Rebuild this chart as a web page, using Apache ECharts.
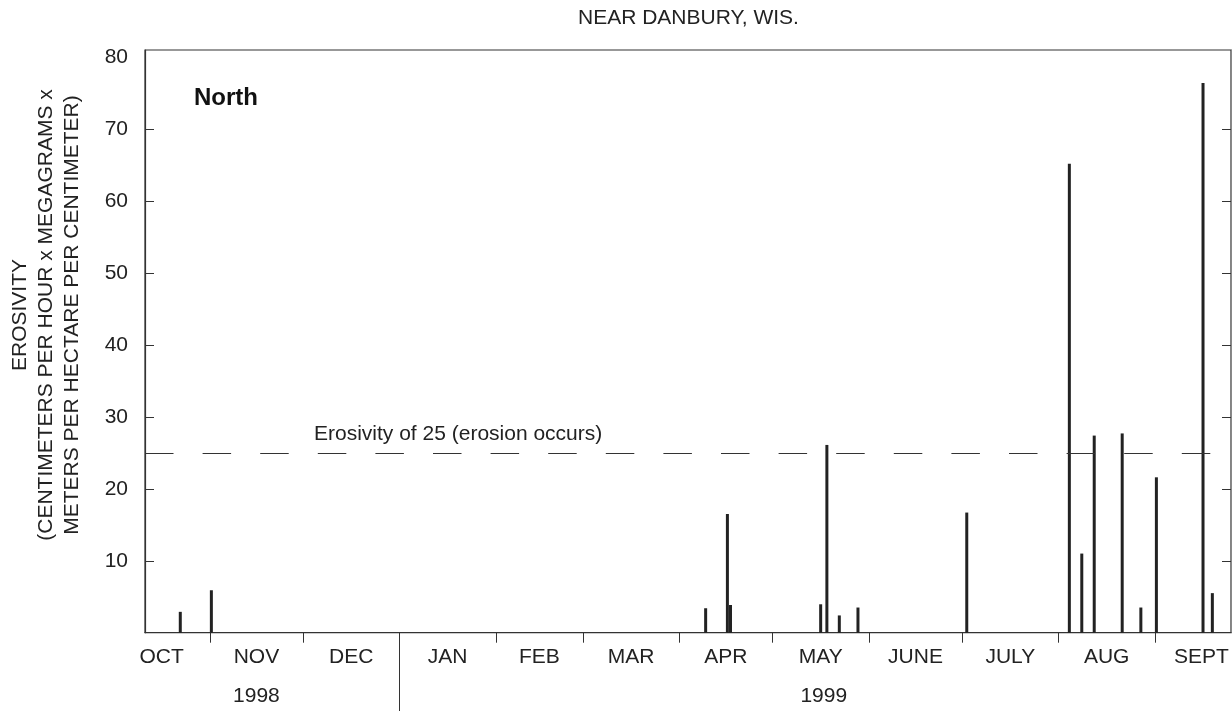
<!DOCTYPE html>
<html>
<head>
<meta charset="utf-8">
<script src="https://cdn.jsdelivr.net/npm/echarts@6/dist/echarts.min.js"></script>
<style>
  html, body { margin: 0; padding: 0; background: #ffffff; }
  #chart { width: 1232px; height: 711px; }
</style>
</head>
<body>
<div id="chart"></div>
<script>
// Storm erosivity, water year 1999 (October 1998 - September 1999)
const eventDates = [
  '1998-10-22', '1998-11-01',
  '1999-04-09', '1999-04-16', '1999-04-17',
  '1999-05-16', '1999-05-18', '1999-05-22', '1999-05-28',
  '1999-07-02',
  '1999-08-04', '1999-08-08', '1999-08-12', '1999-08-21', '1999-08-27',
  '1999-09-01', '1999-09-16', '1999-09-19'
];
const erosivity = [
  2.9, 5.9,
  3.4, 16.5, 3.85,
  3.95, 26.1, 2.4, 3.5,
  16.7,
  65.2, 11.0, 27.4, 27.7, 3.5,
  21.6, 76.4, 5.5
];

const monthNames = ['OCT', 'NOV', 'DEC', 'JAN', 'FEB', 'MAR', 'APR', 'MAY', 'JUNE', 'JULY', 'AUG', 'SEPT'];
const monthStarts = [
  '1998-10-01', '1998-11-01', '1998-12-01', '1999-01-01', '1999-02-01', '1999-03-01',
  '1999-04-01', '1999-05-01', '1999-06-01', '1999-07-01', '1999-08-01', '1999-09-01', '1999-10-01'
];
const yearNames = ['1998', '1999'];
const yearStarts = ['1998-10-01', '1999-01-01', '1999-10-01'];

const yTickValues = [10, 20, 30, 40, 50, 60, 70];
const yLabelValues = [10, 20, 30, 40, 50, 60, 70, 80];
const erosionThreshold = 25;

// x axis is measured in days since 1 October 1998
const DAY = 86400000;
const ORIGIN = Date.UTC(1998, 9, 1);
function dayOf(s) {
  const p = s.split('-').map(Number);
  return (Date.UTC(p[0], p[1] - 1, p[2]) - ORIGIN) / DAY;
}
const X_MIN = 10.15;
const X_MAX = 359.5;

const FONT = "'Liberation Sans', Arial, Helvetica, sans-serif";
const INK = '#222222';
const LINE = '#333333';

const barData = eventDates.map((d, i) => [dayOf(d) + 0.5, erosivity[i]]);

const monthDays = monthStarts.map(dayOf);
const monthTicks = monthDays.slice(1, -1);
const monthMids = monthNames.map((_, i) => (monthDays[i] + monthDays[i + 1]) / 2);
const yearDays = yearStarts.map(dayOf);
const yearMids = yearNames.map((_, i) => (yearDays[i] + yearDays[i + 1]) / 2);

function nameAt(values, names) {
  return function (v) {
    let best = 0;
    for (let i = 1; i < values.length; i++) {
      if (Math.abs(values[i] - v) < Math.abs(values[best] - v)) best = i;
    }
    return names[best];
  };
}

const chart = echarts.init(document.getElementById('chart'), null, { renderer: 'canvas' });

const labelStyle = { color: INK, fontFamily: FONT, fontSize: 21 };

chart.setOption({
  animation: false,
  backgroundColor: '#ffffff',
  grid: {
    left: 145, right: 1, top: 50, bottom: 78.3,
    show: true, borderColor: LINE, borderWidth: 1.2, backgroundColor: 'transparent'
  },
  xAxis: [
    {
      type: 'value', position: 'bottom', min: X_MIN, max: X_MAX,
      axisLine: { show: true, lineStyle: { color: LINE, width: 1.2 } },
      axisTick: { show: true, customValues: monthTicks, inside: false, length: 10, lineStyle: { color: LINE, width: 1 } },
      axisLabel: Object.assign({ customValues: monthMids, margin: 14, lineHeight: 21,
        formatter: nameAt(monthMids, monthNames) }, labelStyle),
      splitLine: { show: false }
    },
    {
      type: 'value', position: 'bottom', min: X_MIN, max: X_MAX,
      axisLine: { show: false },
      axisTick: { show: true, customValues: [dayOf('1999-01-01')], inside: false, length: 80, lineStyle: { color: LINE, width: 1 } },
      axisLabel: Object.assign({ customValues: yearMids, margin: 53, lineHeight: 21,
        formatter: nameAt(yearMids, yearNames) }, labelStyle),
      splitLine: { show: false }
    }
  ],
  yAxis: [
    {
      type: 'value', position: 'left', min: 0, max: 81,
      axisLine: { show: true, lineStyle: { color: LINE, width: 1.2 } },
      axisTick: { show: true, customValues: yTickValues, inside: true, length: 9, lineStyle: { color: LINE, width: 1 } },
      axisLabel: Object.assign({ customValues: yLabelValues, margin: 17 }, labelStyle),
      splitLine: { show: false }
    },
    {
      type: 'value', position: 'right', min: 0, max: 81,
      axisLine: { show: true, lineStyle: { color: '#888888', width: 1 } },
      axisTick: { show: true, customValues: yTickValues, inside: true, length: 9, lineStyle: { color: LINE, width: 1 } },
      axisLabel: { show: false },
      splitLine: { show: false }
    }
  ],
  series: [
    {
      type: 'bar',
      xAxisIndex: 0, yAxisIndex: 0,
      data: barData,
      barWidth: 3,
      itemStyle: { color: INK },
      silent: true,
      markLine: {
        silent: true,
        symbol: ['none', 'none'],
        label: { show: false },
        lineStyle: { color: LINE, width: 1.2, type: [28.5, 29.1], dashOffset: 0 },
        data: [{ yAxis: erosionThreshold }]
      }
    }
  ]
});

const thresholdY = chart.convertToPixel({ yAxisIndex: 0 }, erosionThreshold);

chart.setOption({
  graphic: [
    {
      type: 'text', x: 578, y: 18.5,
      style: { text: 'NEAR DANBURY, WIS.', fill: INK, font: '21px ' + FONT, align: 'left', verticalAlign: 'middle' }
    },
    {
      type: 'text', x: 194, y: 98,
      style: { text: 'North', fill: '#111111', font: 'bold 24px ' + FONT, align: 'left', verticalAlign: 'middle' }
    },
    {
      type: 'text', x: 314, y: thresholdY - 19,
      style: { text: 'Erosivity of ' + erosionThreshold + ' (erosion occurs)', fill: INK, font: '21px ' + FONT, align: 'left', verticalAlign: 'middle' }
    },
    {
      type: 'text', x: 46, y: 315, rotation: Math.PI / 2,
      style: {
        text: 'EROSIVITY\n(CENTIMETERS PER HOUR x MEGAGRAMS x\nMETERS PER HECTARE PER CENTIMETER)',
        fill: INK, font: '21px ' + FONT, align: 'center', verticalAlign: 'middle', lineHeight: 26
      }
    }
  ]
});
</script>
</body>
</html>
